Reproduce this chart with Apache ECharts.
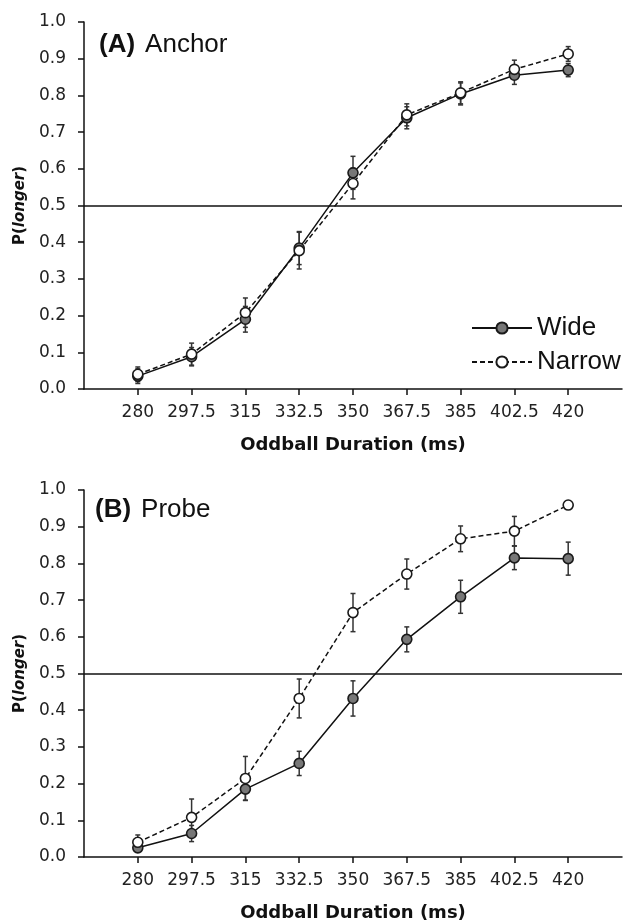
<!DOCTYPE html>
<html>
<head>
<meta charset="utf-8">
<script src="https://cdn.jsdelivr.net/npm/echarts@6/dist/echarts.min.js"></script>
<style>
html,body{margin:0;padding:0;background:#fff;}
#chart{width:625px;height:923px;}
</style>
</head>
<body>
<div id="chart"></div>
<script>
// ---- data ----
const categories = [280, 297.5, 315, 332.5, 350, 367.5, 385, 402.5, 420];
const yTicks = [0, 0.1, 0.2, 0.3, 0.4, 0.5, 0.6, 0.7, 0.8, 0.9, 1.0];
const seriesNames = ['Wide', 'Narrow'];
const panelTitles = ['(A)', 'Anchor', '(B)', 'Probe'];
const xAxisTitle = 'Oddball Duration (ms)';

const anchorWide      = [0.035, 0.088, 0.190, 0.384, 0.589, 0.739, 0.804, 0.855, 0.869];
const anchorWideErr   = [0.020, 0.025, 0.035, 0.045, 0.045, 0.030, 0.030, 0.025, 0.018];
const anchorNarrow    = [0.040, 0.095, 0.208, 0.377, 0.560, 0.747, 0.807, 0.871, 0.913];
const anchorNarrowErr = [0.020, 0.030, 0.040, 0.050, 0.042, 0.030, 0.030, 0.025, 0.020];

const probeWide       = [0.025, 0.064, 0.185, 0.255, 0.432, 0.593, 0.709, 0.815, 0.813];
const probeWideErr    = [0.010, 0.022, 0.030, 0.033, 0.048, 0.034, 0.045, 0.032, 0.045];
const probeNarrow     = [0.040, 0.108, 0.214, 0.432, 0.666, 0.771, 0.867, 0.888, 0.959];
const probeNarrowErr  = [0.020, 0.050, 0.060, 0.053, 0.052, 0.041, 0.035, 0.040, 0.010];

const refLine = 0.5;

// ---- build ----
const pts = (ys) => categories.map((c, i) => [c, ys[i]]);
const errs = (ys, es) => categories.map((c, i) => [c, ys[i] - es[i], ys[i] + es[i]]);

function errRender(params, api) {
  const x = api.value(0);
  const lo = api.coord([x, api.value(1)]);
  const hi = api.coord([x, api.value(2)]);
  const w = 2.5;
  const st = { stroke: '#333', lineWidth: 1.5 };
  return {
    type: 'group',
    children: [
      { type: 'line', shape: { x1: lo[0], y1: lo[1], x2: hi[0], y2: hi[1] }, style: st },
      { type: 'line', shape: { x1: lo[0] - w, y1: lo[1], x2: lo[0] + w, y2: lo[1] }, style: st },
      { type: 'line', shape: { x1: hi[0] - w, y1: hi[1], x2: hi[0] + w, y2: hi[1] }, style: st }
    ]
  };
}

const tickFont = { fontFamily: 'DejaVu Sans', fontSize: 17, color: '#222' };
const step = categories[1] - categories[0];
const xMin = categories[0] - step, xMax = categories[categories.length - 1] + step;

function xAxis(gi) {
  return {
    type: 'value', gridIndex: gi, min: xMin, max: xMax, interval: step,
    name: xAxisTitle, nameLocation: 'middle', nameGap: 47,
    nameTextStyle: { fontFamily: 'DejaVu Sans', fontWeight: 'bold', fontSize: 18, color: '#111' },
    axisLine: { lineStyle: { color: '#111', width: 1.5 } },
    axisTick: { show: true, length: 6, lineStyle: { color: '#111', width: 1.5 } },
    splitLine: { show: false },
    axisLabel: Object.assign({ margin: 15, showMinLabel: false, showMaxLabel: false,
      formatter: v => (v < categories[0] || v > categories[categories.length - 1]) ? '' : String(v) }, tickFont)
  };
}
function yAxis(gi) {
  return {
    type: 'value', gridIndex: gi, min: yTicks[0], max: yTicks[yTicks.length - 1], interval: 0.1,
    name: '{b|P(}{i|longer}{b|)}', nameLocation: 'middle', nameGap: 53, nameRotate: 90,
    nameTextStyle: { rich: {
      b: { fontFamily: 'DejaVu Sans', fontWeight: 'bold', fontSize: 15, color: '#111' },
      i: { fontFamily: 'DejaVu Sans', fontWeight: 'bold', fontStyle: 'italic', fontSize: 15, color: '#111' }
    } },
    axisLine: { show: true, lineStyle: { color: '#111', width: 1.5 } },
    axisTick: { show: true, length: 6, lineStyle: { color: '#111', width: 1.5 } },
    splitLine: { show: false },
    axisLabel: Object.assign({ margin: 18, formatter: v => v.toFixed(1) }, tickFont)
  };
}

function lineSeries(name, data, gi, dashed, withRef) {
  const s = {
    name, type: 'line', xAxisIndex: gi, yAxisIndex: gi, data, z: 5,
    symbol: 'circle', symbolSize: 10, animation: false,
    lineStyle: { color: '#111', width: 1.5, type: dashed ? [5, 3] : 'solid' },
    itemStyle: { color: dashed ? '#fff' : '#777', borderColor: '#1a1a1a', borderWidth: 1.6 }
  };
  if (withRef) {
    s.markLine = { symbol: 'none', silent: true, label: { show: false },
      lineStyle: { color: '#111', width: 1.6, type: 'solid' },
      data: [{ yAxis: refLine }] };
  }
  return s;
}
function errSeries(data, gi) {
  return { type: 'custom', xAxisIndex: gi, yAxisIndex: gi, data, renderItem: errRender, z: 3,
    animation: false, silent: true, encode: { x: 0, y: [1, 2] } };
}

const titleRich = {
  b: { fontFamily: 'Liberation Sans', fontWeight: 'bold', fontSize: 26, color: '#111' },
  n: { fontFamily: 'Liberation Sans', fontWeight: 'normal', fontSize: 26, color: '#111' }
};

const option = {
  backgroundColor: '#fff',
  animation: false,
  title: [
    { left: 94, top: 27, text: '{b|' + panelTitles[0] + '}  {n|' + panelTitles[1] + '}', textStyle: { rich: titleRich } },
    { left: 90, top: 492, text: '{b|' + panelTitles[2] + '}  {n|' + panelTitles[3] + '}', textStyle: { rich: titleRich } }
  ],
  legend: {
    orient: 'vertical', left: 466, top: 310, itemWidth: 60, itemHeight: 14, itemGap: 8,
    data: seriesNames,
    textStyle: { fontFamily: 'Liberation Sans', fontSize: 26, color: '#111' }
  },
  grid: [
    { left: 84, right: 3, top: 22, height: 367 },
    { left: 84, right: 3, top: 490, height: 367 }
  ],
  xAxis: [xAxis(0), xAxis(1)],
  yAxis: [yAxis(0), yAxis(1)],
  series: [
    errSeries(errs(anchorWide, anchorWideErr), 0),
    errSeries(errs(anchorNarrow, anchorNarrowErr), 0),
    lineSeries(seriesNames[0], pts(anchorWide), 0, false, true),
    lineSeries(seriesNames[1], pts(anchorNarrow), 0, true, false),
    errSeries(errs(probeWide, probeWideErr), 1),
    errSeries(errs(probeNarrow, probeNarrowErr), 1),
    lineSeries(seriesNames[0], pts(probeWide), 1, false, true),
    lineSeries(seriesNames[1], pts(probeNarrow), 1, true, false)
  ]
};

const chart = echarts.init(document.getElementById('chart'), null, { renderer: 'canvas' });
chart.setOption(option);
</script>
</body>
</html>
